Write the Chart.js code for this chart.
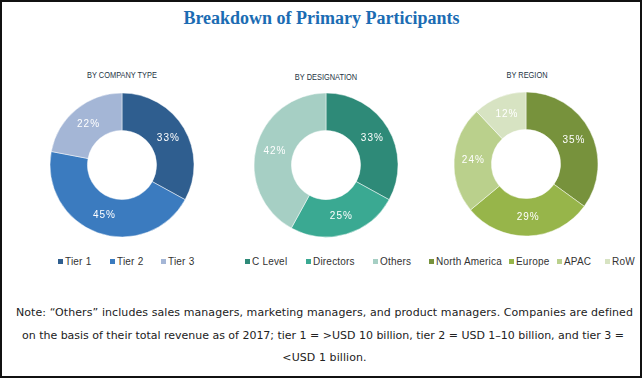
<!DOCTYPE html>
<html>
<head>
<meta charset="utf-8">
<script src="https://cdn.jsdelivr.net/npm/chart.js@4/dist/chart.umd.min.js"></script>
<style>
  html, body { margin: 0; padding: 0; background: #fff; }
  #frame { position: absolute; left: 0; top: 0; width: 642px; height: 378px; box-sizing: border-box; border: 2px solid #111; overflow: hidden; }
  .abs { position: absolute; }
  #title { left: 0; width: 643px; top: 8px; text-align: center; font: bold 18px "Liberation Serif", "Times New Roman", serif; color: #1b6cb3; }
  .sub { font: 9.5px "Liberation Sans", Arial, sans-serif; color: #1e3444; text-align: center; width: 160px; white-space: nowrap; transform: scaleX(0.78); }
  .leg { font: 10px "Liberation Sans", Arial, sans-serif; color: #333; white-space: nowrap; letter-spacing: 0.2px; }
  .leg i { display: inline-block; width: 5px; height: 5px; margin-right: 2px; vertical-align: 1px; }
  .note { font: 11px "DejaVu Sans", sans-serif; color: #222; white-space: nowrap; }
  canvas { position: absolute; }
</style>
</head>
<body>
<div id="frame"></div>
<div id="title" class="abs">Breakdown of Primary Participants</div>

<div class="abs sub" style="left:42px; top:69px;">BY COMPANY TYPE</div>
<div class="abs sub" style="left:246px; top:71px;">BY DESIGNATION</div>
<div class="abs sub" style="left:447px; top:69px;">BY REGION</div>

<canvas id="c1" width="160" height="160" style="left:42px; top:85px;"></canvas>
<canvas id="c2" width="160" height="160" style="left:246px; top:85px;"></canvas>
<canvas id="c3" width="160" height="160" style="left:446px; top:84px;"></canvas>

<div id="legend"></div>

<span id="n1" class="abs note" style="top:306px;">Note: “Others” includes sales managers, marketing managers, and product managers. Companies are defined</span>
<span id="n2" class="abs note" style="top:329px;">on the basis of their total revenue as of 2017; tier 1 = &gt;USD 10 billion, tier 2 = USD 1–10 billion, and tier 3 =</span>
<span id="n3" class="abs note" style="top:351px;">&lt;USD 1 billion.</span>

<script>
// ---- data ----
const companyLabels = ["Tier 1", "Tier 2", "Tier 3"];
const companyValues = [33, 45, 22];
const designationLabels = ["C Level", "Directors", "Others"];
const designationValues = [33, 25, 42];
const regionLabels = ["North America", "Europe", "APAC", "RoW"];
const regionValues = [35, 29, 24, 12];

// ---- styles ----
const companyColors = ["#2f5e8f", "#3b7bbf", "#a4b6d6"];
const designationColors = ["#2e8a78", "#3aa992", "#a6cfc4"];
const regionColors = ["#77923c", "#97b54a", "#bad08c", "#d7e3c2"];

const pctLabels = {
  id: 'pctLabels',
  afterDatasetsDraw(chart) {
    const ctx = chart.ctx;
    const meta = chart.getDatasetMeta(0);
    const data = chart.data.datasets[0].data;
    ctx.save();
    ctx.fillStyle = '#ffffff';
    ctx.font = '10px "Liberation Sans", Arial, sans-serif';
    ctx.letterSpacing = '1px';
    ctx.textAlign = 'center';
    ctx.textBaseline = 'middle';
    meta.data.forEach((arc, i) => {
      const p = arc.getProps(['x', 'y', 'startAngle', 'endAngle', 'innerRadius', 'outerRadius'], true);
      const a = (p.startAngle + p.endAngle) / 2;
      const r = (p.innerRadius + p.outerRadius) / 2;
      ctx.fillText(data[i] + '%', p.x + Math.cos(a) * r + 0.5, p.y + Math.sin(a) * r);
    });
    ctx.restore();
  }
};

function makeDonut(id, labels, values, colors) {
  new Chart(document.getElementById(id), {
    type: 'doughnut',
    data: { labels: labels, datasets: [{ data: values, backgroundColor: colors, borderColor: 'rgba(255,255,255,0.6)', borderWidth: 0.8 }] },
    options: {
      responsive: false,
      devicePixelRatio: 1,
      animation: false,
      radius: 72,
      cutout: '48%',
      rotation: 0,
      layout: { padding: 0 },
      plugins: { legend: { display: false }, tooltip: { enabled: false } }
    },
    plugins: [pctLabels]
  });
}

makeDonut('c1', companyLabels, companyValues, companyColors);
makeDonut('c2', designationLabels, designationValues, designationColors);
makeDonut('c3', regionLabels, regionValues, regionColors);

// ---- legend (HTML) ----
const legendLeft = [58, 110, 161, 245, 306, 373, 429, 509, 557, 605];
const allLabels = companyLabels.concat(designationLabels, regionLabels);
const allColors = companyColors.concat(designationColors, regionColors);
const legend = document.getElementById('legend');
allLabels.forEach((lab, i) => {
  const d = document.createElement('div');
  d.className = 'abs leg';
  d.style.left = legendLeft[i] + 'px';
  d.style.top = '256px';
  d.innerHTML = '<i style="background:' + allColors[i] + '"></i>' + lab;
  legend.appendChild(d);
});

// ---- fit note lines to the reference extents ----
function fitLine(id, left, right, spacing) {
  const el = document.getElementById(id);
  const chars = el.textContent.length;
  if (spacing === undefined) {
    const w = el.getBoundingClientRect().width;
    spacing = ((right - left) - w) / chars;
  }
  el.style.letterSpacing = spacing + 'px';
  const w2 = el.getBoundingClientRect().width;
  el.style.left = ((left + right) / 2 - w2 / 2) + 'px';
  return spacing;
}
const sp = fitLine('n1', 16, 633);
fitLine('n2', 22, 624);
fitLine('n3', 281, 368, sp);
</script>
</body>
</html>
